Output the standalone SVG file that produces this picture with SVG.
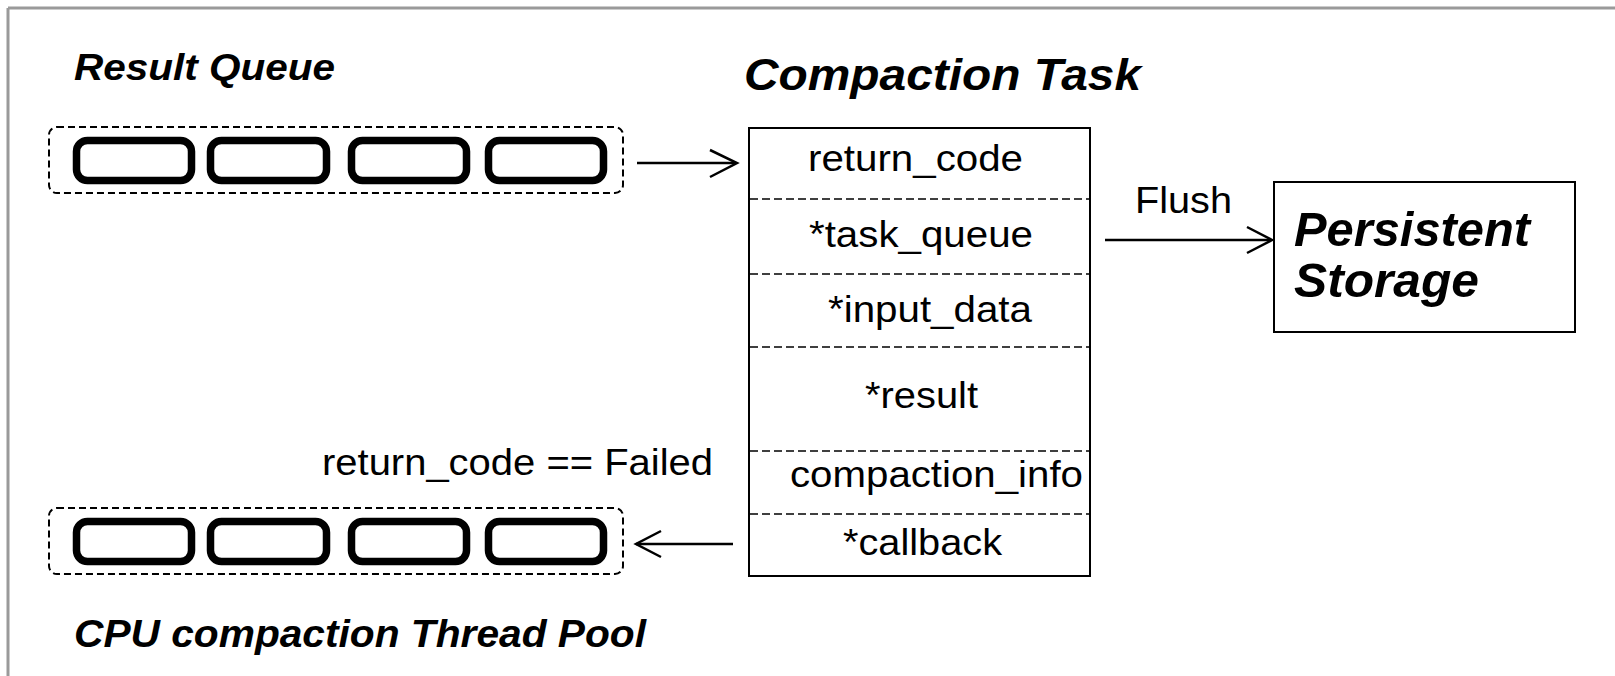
<svg xmlns="http://www.w3.org/2000/svg" width="1615" height="676" viewBox="0 0 1615 676">
<style>
.bi{font-family:"Liberation Sans",Arial,sans-serif;font-weight:bold;font-style:italic;fill:#000}
.rg{font-family:"Liberation Sans",Arial,sans-serif;font-size:36px;fill:#000}
.slot{fill:#fff;stroke:#000;stroke-width:7.5}
.cont{fill:none;stroke:#000;stroke-width:2;stroke-dasharray:7 4}
.div{stroke:#000;stroke-width:1.6;stroke-dasharray:8 4}
.ln{fill:none;stroke:#000;stroke-width:2.5}
</style>
<rect width="1615" height="676" fill="#fff"/>
<g id="frame">
<line x1="8" y1="8" x2="1615" y2="8" stroke="#9a9a9a" stroke-width="3"/>
<line x1="8" y1="8" x2="8" y2="676" stroke="#9a9a9a" stroke-width="3"/>
</g>
<g id="result-queue">
<text class="bi" x="74" y="80" font-size="36" textLength="261" lengthAdjust="spacingAndGlyphs">Result Queue</text>
<rect class="cont" x="49" y="127" width="574" height="66" rx="8"/>
<rect class="slot" x="76.5" y="140.5" width="115" height="40" rx="11"/>
<rect class="slot" x="210.5" y="140.5" width="116" height="40" rx="11"/>
<rect class="slot" x="351.5" y="140.5" width="115" height="40" rx="11"/>
<rect class="slot" x="488.5" y="140.5" width="115" height="40" rx="11"/>
</g>
<g id="thread-pool">
<rect class="cont" x="49" y="508" width="574" height="66" rx="8"/>
<rect class="slot" x="76.5" y="521.5" width="115" height="40" rx="11"/>
<rect class="slot" x="210.5" y="521.5" width="116" height="40" rx="11"/>
<rect class="slot" x="351.5" y="521.5" width="115" height="40" rx="11"/>
<rect class="slot" x="488.5" y="521.5" width="115" height="40" rx="11"/>
<text class="bi" x="74" y="647" font-size="38" textLength="572" lengthAdjust="spacingAndGlyphs">CPU compaction Thread Pool</text>
</g>
<g id="compaction-task">
<text class="bi" x="744" y="90" font-size="45" textLength="397" lengthAdjust="spacingAndGlyphs">Compaction Task</text>
<rect x="749" y="128" width="341" height="448" fill="#fff" stroke="#000" stroke-width="2"/>
<line class="div" x1="750" y1="199" x2="1089" y2="199"/>
<line class="div" x1="750" y1="274" x2="1089" y2="274"/>
<line class="div" x1="750" y1="347" x2="1089" y2="347"/>
<line class="div" x1="750" y1="451" x2="1089" y2="451"/>
<line class="div" x1="750" y1="514" x2="1089" y2="514"/>
<text class="rg" x="808" y="171" textLength="215" lengthAdjust="spacingAndGlyphs">return_code</text>
<text class="rg" x="809" y="247" textLength="224" lengthAdjust="spacingAndGlyphs">*task_queue</text>
<text class="rg" x="828" y="322" textLength="204" lengthAdjust="spacingAndGlyphs">*input_data</text>
<text class="rg" x="865" y="408" textLength="113" lengthAdjust="spacingAndGlyphs">*result</text>
<text class="rg" x="790" y="487" textLength="293" lengthAdjust="spacingAndGlyphs">compaction_info</text>
<text class="rg" x="843" y="555" textLength="159" lengthAdjust="spacingAndGlyphs">*callback</text>
</g>
<g id="persistent-storage">
<rect x="1274" y="182" width="301" height="150" fill="#fff" stroke="#000" stroke-width="2"/>
<text class="bi" x="1294" y="246" font-size="48" textLength="236" lengthAdjust="spacingAndGlyphs">Persistent</text>
<text class="bi" x="1294" y="297" font-size="48" textLength="185" lengthAdjust="spacingAndGlyphs">Storage</text>
</g>
<g id="connectors">
<line class="ln" x1="637" y1="163" x2="736" y2="163"/>
<polyline class="ln" points="710,150 737,163 710,177"/>
<line class="ln" x1="1105" y1="240" x2="1271" y2="240" stroke-width="3.5"/>
<polyline class="ln" points="1247,227 1272,240 1247,253" stroke-width="3"/>
<line class="ln" x1="636" y1="544" x2="733" y2="544"/>
<polyline class="ln" points="661,531 636,544 661,557"/>
<text class="rg" x="1135" y="213" textLength="97" lengthAdjust="spacingAndGlyphs">Flush</text>
<text class="rg" x="713" y="475" text-anchor="end" textLength="391" lengthAdjust="spacingAndGlyphs">return_code == Failed</text>
</g>
</svg>
